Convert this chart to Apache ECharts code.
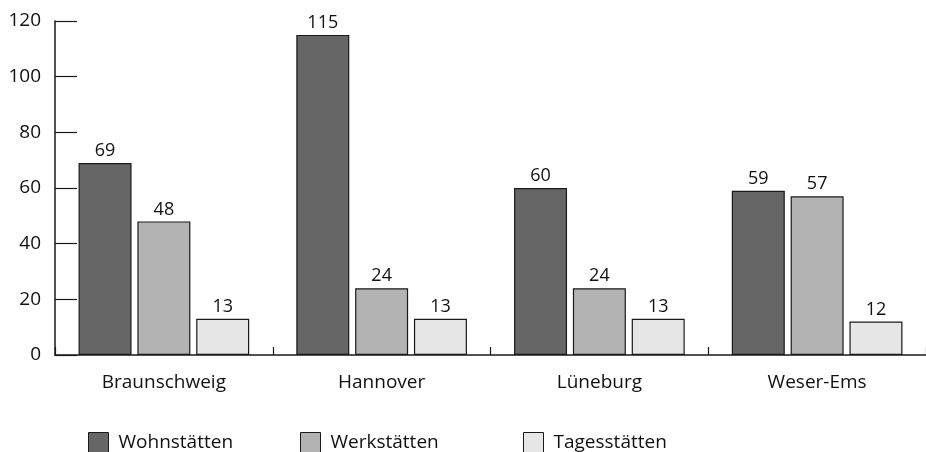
<!DOCTYPE html>
<html>
<head>
<meta charset="utf-8">
<script src="https://cdn.jsdelivr.net/npm/echarts@6/dist/echarts.min.js"></script>
<style>
html,body{margin:0;padding:0;background:#fff;}
#main{width:926px;height:452px;}
</style>
</head>
<body>
<div id="main"></div>
<script>
var categories = ['Braunschweig', 'Hannover', 'Lüneburg', 'Weser-Ems'];
var seriesNames = ['Wohnstätten', 'Werkstätten', 'Tagesstätten'];
var wohnstaetten = [69, 115, 60, 59];
var werkstaetten = [48, 24, 24, 57];
var tagesstaetten = [13, 13, 13, 12];
var yTicks = [0, 20, 40, 60, 80, 100, 120];

var colors = ['#666666', '#b3b3b3', '#e6e6e6'];
var FONT = 'Open Sans';
var TXT = '#111';
var chart = echarts.init(document.getElementById('main'), null, {renderer: 'canvas'});

function mkSeries(name, data, color) {
  return {
    name: name,
    type: 'bar',
    data: data,
    barWidth: 53,
    barGap: '11%',
    itemStyle: {color: color, borderColor: '#1a1a1a', borderWidth: 1.2},
    label: {show: true, position: 'top', distance: 3, color: TXT, fontFamily: FONT, fontSize: 18}
  };
}

function mkLegend(name, left) {
  return {
    data: [name],
    left: left,
    top: 432,
    padding: 0,
    icon: 'rect',
    itemWidth: 20,
    itemHeight: 20,
    itemStyle: {borderColor: '#1a1a1a', borderWidth: 1},
    textStyle: {fontFamily: FONT, fontSize: 19, color: TXT, padding: [5, 0, 0, 5]}
  };
}

chart.setOption({
  animation: false,
  backgroundColor: '#fff',
  grid: {left: 55, width: 879, top: 21, bottom: 97, containLabel: false},
  legend: [
    mkLegend(seriesNames[0], 88),
    mkLegend(seriesNames[1], 300),
    mkLegend(seriesNames[2], 523)
  ],
  xAxis: {
    type: 'category',
    data: categories,
    boundaryGap: true,
    axisLine: {lineStyle: {color: '#1a1a1a', width: 1.5}},
    axisTick: {show: true, inside: true, length: 8, lineStyle: {color: '#1a1a1a', width: 1.2}},
    axisLabel: {fontFamily: FONT, fontSize: 19, color: TXT, margin: 18}
  },
  yAxis: {
    type: 'value',
    min: yTicks[0],
    max: yTicks[yTicks.length - 1],
    interval: 20,
    splitLine: {show: false},
    axisLine: {show: true, lineStyle: {color: '#1a1a1a', width: 1.5}},
    axisTick: {show: true, inside: true, length: 22, lineStyle: {color: '#1a1a1a', width: 1.2}},
    axisLabel: {fontFamily: FONT, fontSize: 19, color: TXT, margin: 14}
  },
  series: [
    mkSeries(seriesNames[0], wohnstaetten, colors[0]),
    mkSeries(seriesNames[1], werkstaetten, colors[1]),
    mkSeries(seriesNames[2], tagesstaetten, colors[2])
  ]
});
</script>
</body>
</html>
